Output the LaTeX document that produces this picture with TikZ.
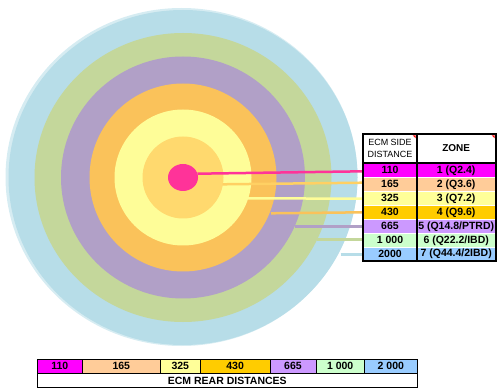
\documentclass[tikz,border=0pt]{standalone}
\usepackage{fontspec}
\setmainfont{Liberation Sans}
\usetikzlibrary{shapes.geometric}
\definecolor{rHalo}{HTML}{D6ECF2}
\definecolor{rBlue}{HTML}{B7DDE8}
\definecolor{rGreen}{HTML}{C4D79B}
\definecolor{rPurple}{HTML}{B1A0C7}
\definecolor{rOrange}{HTML}{FAC25A}
\definecolor{rYellow}{HTML}{FEFD98}
\definecolor{rLOrange}{HTML}{FFD96E}
\definecolor{rPink}{HTML}{FF3399}
\definecolor{tMag}{HTML}{FF00FF}
\definecolor{tPeach}{HTML}{FFCC99}
\definecolor{tYel}{HTML}{FFFF99}
\definecolor{tGold}{HTML}{FFCC00}
\definecolor{tLav}{HTML}{CC99FF}
\definecolor{tGrn}{HTML}{CCFFCC}
\definecolor{tBlu}{HTML}{99CCFF}
\begin{document}
\begin{tikzpicture}[x=1pt,y=-1pt,
  ring/.style={ellipse,draw=none,inner sep=0pt},
  cellL/.style={rectangle,draw=none,inner sep=0pt,minimum width=53.4pt,minimum height=14pt,font=\fontsize{10.5}{12}\selectfont\bfseries},
  cellR/.style={rectangle,draw=none,inner sep=0pt,minimum width=79pt,minimum height=14pt,font=\fontsize{10.5}{12}\selectfont\bfseries},
  bcell/.style={rectangle,draw=black,line width=0.8pt,inner sep=0pt,minimum height=14pt,font=\fontsize{10.5}{12}\selectfont\bfseries},
  leader/.style={line width=2.5pt}]
\useasboundingbox (0,0) rectangle (501,390);
% rings
\node[ring,fill=rHalo,minimum width=352pt,minimum height=338pt] (halo) at (181.5,177) {};
\node[ring,fill=rBlue,minimum width=349pt,minimum height=335pt] (z7) at (183,177.5) {};
\node[ring,fill=rGreen,minimum width=297pt,minimum height=289pt] (z6) at (183,177.5) {};
\node[ring,fill=rPurple,minimum width=244pt,minimum height=242pt] (z5) at (183,177.5) {};
\node[ring,fill=rOrange,minimum width=187pt,minimum height=188pt] (z4) at (183,177.5) {};
\node[ring,fill=rYellow,minimum width=137pt,minimum height=136pt] (z3) at (183,177.5) {};
\node[ring,fill=rLOrange,minimum width=81pt,minimum height=82pt] (z2) at (183,177.5) {};
\node[ring,fill=rPink,minimum width=30pt,minimum height=27pt] (z1) at (183,177.5) {};
% leader start / end points
\coordinate (s1) at (197.5,173.7);
\coordinate (s2) at (222.7,184.3);
\coordinate (s3) at (247,198.3);
\coordinate (s4) at (271,213.3);
\coordinate (s5) at (295,226.7);
\coordinate (s6) at (317,239.7);
\coordinate (s7) at (340.7,254.3);
\coordinate (e1) at (364,171.3);
\coordinate (e2) at (364,182.7);
\coordinate (e3) at (364,198.7);
\coordinate (e4) at (364,212.3);
\coordinate (e5) at (364,226.7);
\coordinate (e6) at (364,239.7);
\coordinate (e7) at (364,254.3);
\draw[leader,draw=rPink] (s1) -- (e1);
\draw[leader,draw=rLOrange!90!orange] (s2) -- (e2);
\draw[leader,draw=rYellow] (s3) -- (e3);
\draw[leader,draw=rOrange] (s4) -- (e4);
\draw[leader,draw=rPurple] (s5) -- (e5);
\draw[leader,draw=rGreen] (s6) -- (e6);
\draw[leader,draw=rBlue] (s7) -- (e7);
% side table
\node[cellL,minimum height=29pt,fill=white,font=\fontsize{9}{12}\selectfont,align=center] (hL) at (390,148) {ECM SIDE\\DISTANCE};
\node[cellR,minimum height=29pt,fill=white,font=\fontsize{10}{12}\selectfont\bfseries] (hR) at (456.2,148) {ZONE};
\node[cellL,fill=tMag] (l1) at (390,170.3) {110};
\node[cellR,fill=tMag] (r1) at (456.2,170.3) {1 (Q2.4)};
\node[cellL,fill=tPeach] (l2) at (390,184.3) {165};
\node[cellR,fill=tPeach] (r2) at (456.2,184.3) {2 (Q3.6)};
\node[cellL,fill=tYel] (l3) at (390,198.3) {325};
\node[cellR,fill=tYel] (r3) at (456.2,198.3) {3 (Q7.2)};
\node[cellL,fill=tGold] (l4) at (390,212.3) {430};
\node[cellR,fill=tGold] (r4) at (456.2,212.3) {4 (Q9.6)};
\node[cellL,fill=tLav] (l5) at (390,226.3) {665};
\node[cellR,fill=tLav] (r5) at (456.2,226.3) {5 (Q14.8/PTRD)};
\node[cellL,fill=tGrn] (l6) at (390,240.3) {1 000};
\node[cellR,fill=tGrn] (r6) at (456.2,240.3) {6 (Q22.2/IBD)};
\node[cellL,fill=tBlu] (l7) at (390,254.2) {2000};
\node[cellR,fill=tBlu] (r7) at (456.2,254.2) {7 (Q44.4/2IBD)};
% row separators
\foreach \y in {177.3,191.3,205.3,219.3,233.3,247.3}{
  \draw[white,line width=0.8pt] (364,\y) -- (495,\y);
}
\draw[line width=2pt] (363.3,134.3) rectangle (495.7,261);
\draw[line width=2pt] (416.7,134.3) -- (416.7,261);
\draw[line width=1.6pt] (363.3,163.3) -- (495.7,163.3);
\fill[red] (415.7,135.3) -- (412.7,135.3) -- (415.7,138.3) -- cycle;
\fill[red] (494.7,135.3) -- (491.7,135.3) -- (494.7,138.3) -- cycle;
% rear table
\node[bcell,fill=tMag,minimum width=45pt] (b1) at (59.8,366.3) {110};
\node[bcell,fill=tPeach,minimum width=78pt] (b2) at (121.3,366.3) {165};
\node[bcell,fill=tYel,minimum width=40pt] (b3) at (180.3,366.3) {325};
\node[bcell,fill=tGold,minimum width=69.7pt] (b4) at (235.15,366.3) {430};
\node[bcell,fill=tLav,minimum width=46pt] (b5) at (293,366.3) {665};
\node[bcell,fill=tGrn,minimum width=48.3pt] (b6) at (340.15,366.3) {1 000};
\node[bcell,fill=tBlu,minimum width=53pt] (b7) at (390.8,366.3) {2 000};
\node[bcell,fill=white,minimum width=380pt,minimum height=14.4pt] (bt) at (227.3,380.5) {ECM REAR DISTANCES};
\end{tikzpicture}
\end{document}
